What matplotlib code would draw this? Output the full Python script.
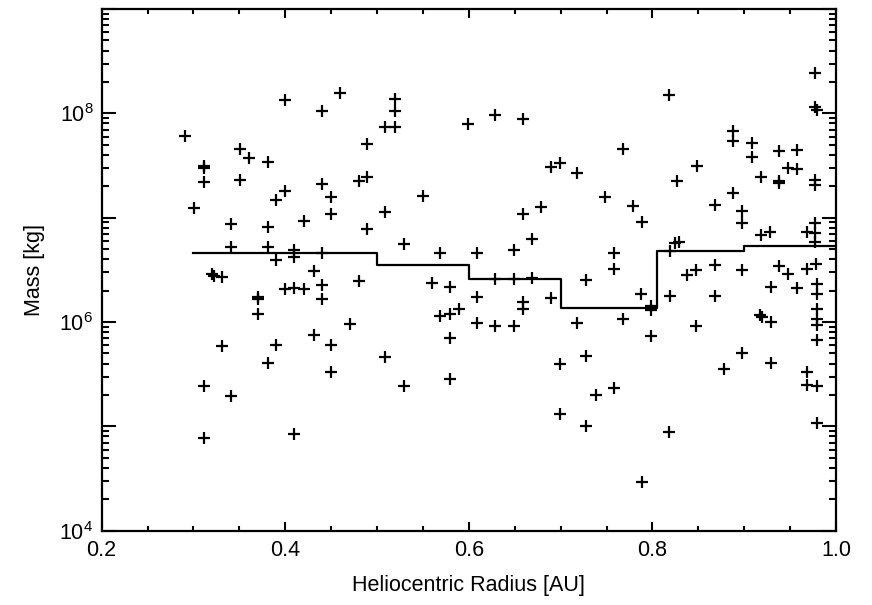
import matplotlib
matplotlib.use('Agg')
import matplotlib.pyplot as plt
import matplotlib.ticker as ticker
import numpy as np

#-------------------------------
# data

# heliocentric radius [AU] of every event
radius = [
    0.291, 0.311, 0.311, 0.311, 0.301, 0.320, 0.322, 0.331, 0.311, 0.311,
    0.341, 0.341, 0.331, 0.341, 0.351, 0.351, 0.361, 0.381, 0.381, 0.381,
    0.370, 0.370, 0.370, 0.381, 0.390, 0.390, 0.390, 0.400, 0.400, 0.400,
    0.409, 0.409, 0.409, 0.410, 0.420, 0.420, 0.431, 0.431, 0.440, 0.440,
    0.440, 0.440, 0.440, 0.450, 0.450, 0.450, 0.450, 0.460, 0.470, 0.480,
    0.480, 0.489, 0.489, 0.489, 0.509, 0.520, 0.520, 0.520, 0.509, 0.509,
    0.529, 0.529, 0.550, 0.560, 0.569, 0.569, 0.579, 0.579, 0.579, 0.579,
    0.589, 0.599, 0.609, 0.609, 0.609, 0.629, 0.629, 0.629, 0.649, 0.649,
    0.649, 0.659, 0.659, 0.659, 0.659, 0.669, 0.669, 0.679, 0.689, 0.699,
    0.689, 0.699, 0.699, 0.718, 0.718, 0.728, 0.728, 0.728, 0.739, 0.748,
    0.758, 0.758, 0.758, 0.768, 0.768, 0.779, 0.789, 0.788, 0.789, 0.798,
    0.798, 0.798, 0.818, 0.819, 0.825, 0.819, 0.818, 0.827, 0.829, 0.838,
    0.848, 0.849, 0.848, 0.868, 0.868, 0.868, 0.878, 0.888, 0.888, 0.888,
    0.898, 0.898, 0.898, 0.898, 0.908, 0.908, 0.918, 0.918, 0.917, 0.919,
    0.928, 0.929, 0.929, 0.929, 0.938, 0.938, 0.938, 0.938, 0.948, 0.948,
    0.958, 0.958, 0.958, 0.968, 0.968, 0.968, 0.968, 0.977, 0.977, 0.979,
    0.977, 0.977, 0.977, 0.977, 0.977, 0.978, 0.979, 0.979, 0.979, 0.979,
    0.979, 0.979, 0.979, 0.979,
]

# log10 of the mass [kg] of every event
log_mass = [
    7.787, 7.500, 7.478, 7.346, 7.095, 6.456, 6.440, 6.428, 5.385, 4.884,
    6.935, 6.718, 5.767, 5.289, 7.363, 7.659, 7.573, 7.531, 6.913, 6.718,
    6.239, 6.224, 6.080, 5.608, 7.165, 6.597, 5.777, 8.128, 7.254, 6.320,
    6.686, 6.622, 6.329, 4.925, 6.964, 6.320, 6.488, 5.873, 8.019, 7.324,
    6.664, 6.351, 6.224, 7.203, 7.031, 5.777, 5.522, 8.191, 5.985, 7.349,
    6.389, 7.707, 7.388, 6.894, 7.866, 7.866, 8.138, 8.019, 7.059, 5.667,
    6.750, 5.385, 7.212, 6.373, 6.664, 6.055, 6.335, 6.080, 5.851, 5.458,
    6.128, 7.899, 6.664, 6.239, 5.994, 7.988, 6.415, 5.959, 6.693, 6.415,
    5.959, 7.946, 7.031, 6.191, 6.128, 6.798, 6.425, 7.107, 7.483, 7.522,
    6.233, 5.602, 5.123, 7.426, 5.994, 6.399, 5.675, 5.002, 5.305, 7.203,
    6.664, 6.504, 5.370, 7.659, 6.033, 7.110, 6.957, 6.265, 4.469, 6.150,
    6.112, 5.866, 8.176, 6.679, 6.756, 6.246, 4.942, 7.356, 6.766, 6.447,
    6.495, 7.493, 5.962, 7.117, 6.543, 6.246, 5.554, 7.828, 7.732, 7.238,
    7.062, 6.947, 6.495, 5.703, 7.713, 7.579, 7.394, 6.830, 6.064, 6.048,
    6.861, 6.337, 6.000, 5.610, 7.643, 7.356, 7.332, 6.533, 7.476, 6.463,
    7.650, 7.468, 6.322, 6.863, 6.507, 5.522, 5.394, 8.385, 8.057, 8.033,
    7.363, 7.318, 6.947, 6.856, 6.766, 6.559, 6.367, 6.272, 6.128, 6.033,
    5.968, 5.830, 5.389, 5.028,
]

# binned average mass (step line)
bin_edges = [0.30, 0.50, 0.60, 0.70, 0.805, 0.90, 1.00]
bin_mass = [4.6e6, 3.5e6, 2.6e6, 1.36e6, 4.8e6, 5.4e6]

#-------------------------------
# plotting

plt.rcParams['font.family'] = ['Liberation Sans', 'DejaVu Sans']
plt.rcParams['mathtext.default'] = 'regular'

fig = plt.figure(figsize=(8.72, 6.05), dpi=100)
ax = fig.add_axes([0.1166, 0.1228, 0.8421, 0.8623])

mass = 10 ** np.array(log_mass)
ax.plot(radius, mass, linestyle='none', marker='+', color='black',
        markersize=9, markeredgewidth=1.6)

# step line, last value repeated so the final bin reaches 1.0
ax.step(bin_edges, bin_mass + [bin_mass[-1]], where='post', color='black', linewidth=1.6)

ax.set_yscale('log')
ax.set_xlim(0.2, 1.0)
ax.set_ylim(1e4, 1e9)

ax.xaxis.set_major_locator(ticker.MultipleLocator(0.2))
ax.xaxis.set_minor_locator(ticker.MultipleLocator(0.05))
ax.xaxis.set_major_formatter(ticker.FormatStrFormatter('%.1f'))

ax.yaxis.set_major_locator(ticker.LogLocator(base=10, numticks=20))
ax.yaxis.set_minor_locator(ticker.LogLocator(base=10, subs=np.arange(2, 10), numticks=20))

def ylabel_fmt(v, pos):
    e = int(round(np.log10(v)))
    if e % 2 == 0:
        return r'$10^{%d}$' % e
    return ''

ax.yaxis.set_major_formatter(ticker.FuncFormatter(ylabel_fmt))
ax.yaxis.set_minor_formatter(ticker.NullFormatter())

ax.tick_params(axis='both', which='both', direction='in', top=True, right=True,
               width=1.5, labelsize=15.5, colors='black')
ax.tick_params(axis='x', which='major', length=6.5, pad=7)
ax.tick_params(axis='x', which='minor', length=3.5)
ax.tick_params(axis='y', which='major', length=10, pad=6)
ax.tick_params(axis='y', which='minor', length=5)

for s in ax.spines.values():
    s.set_linewidth(1.6)

ax.set_xlabel('Heliocentric Radius [AU]', fontsize=15.5, labelpad=10)
ax.set_ylabel('Mass [kg]', fontsize=15.5, labelpad=10)

plt.savefig('out.png', dpi=100)
